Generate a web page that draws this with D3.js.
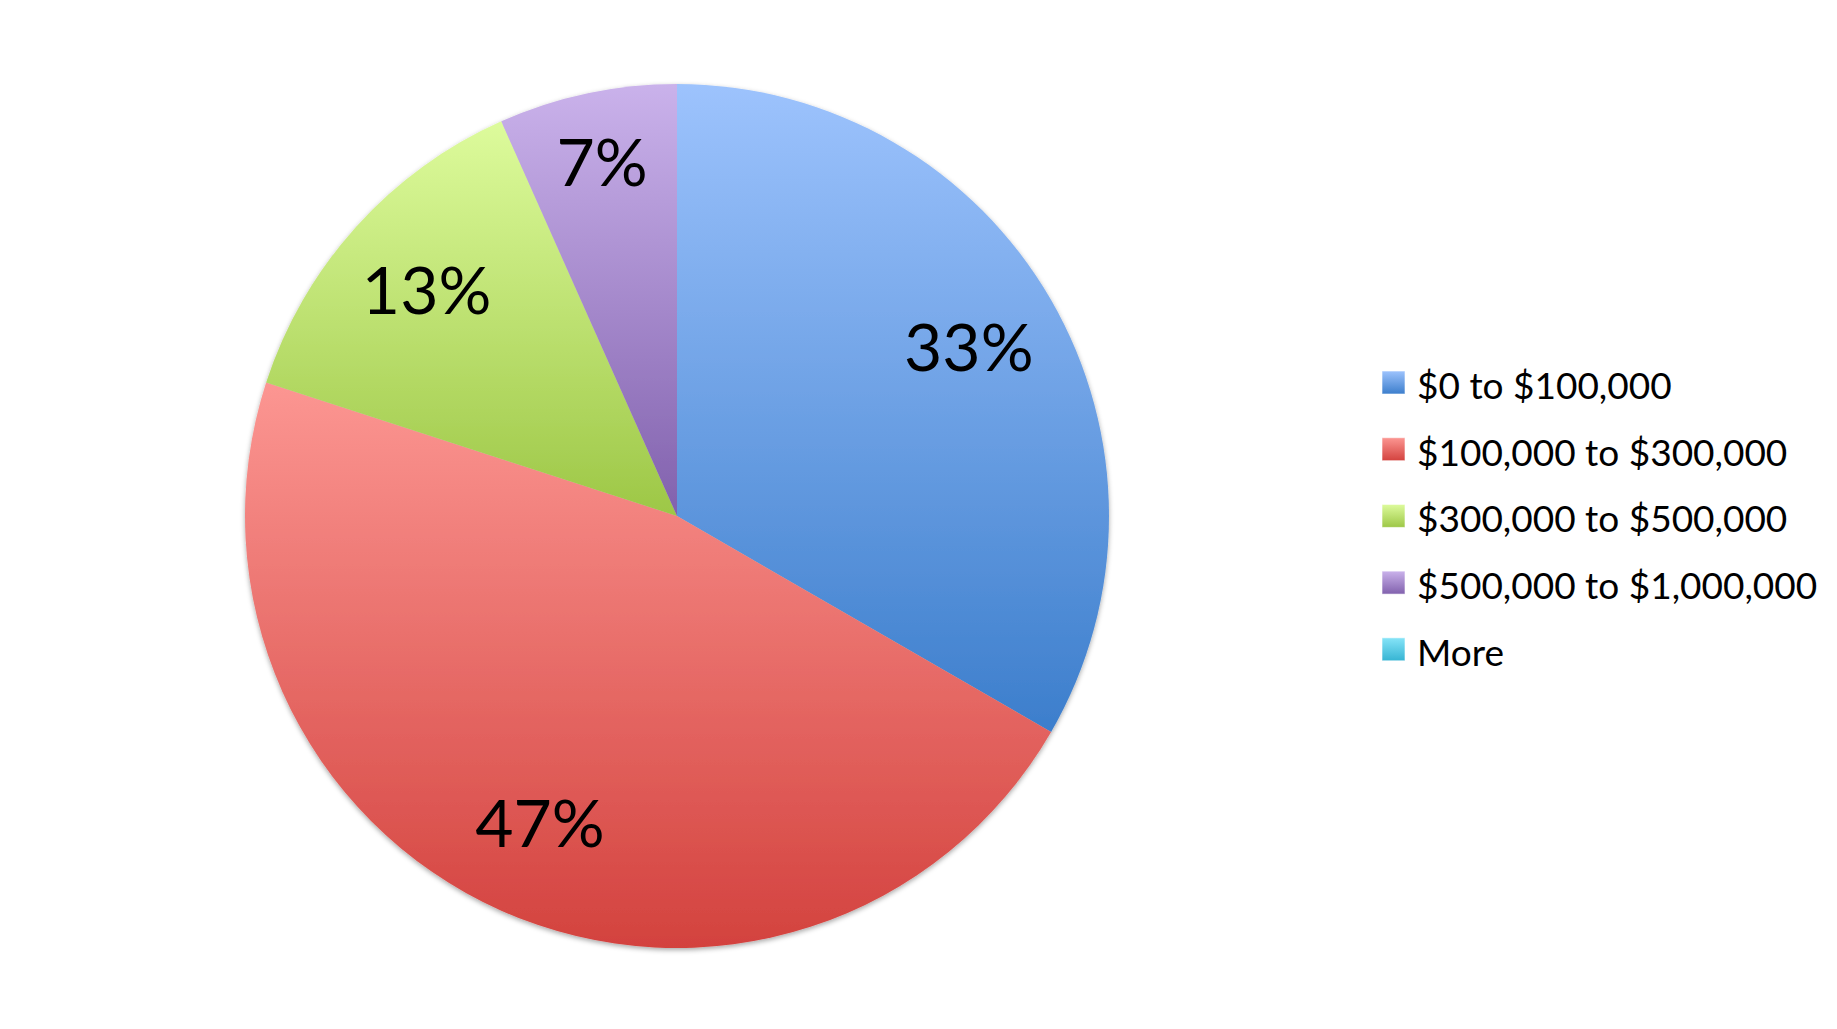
<!DOCTYPE html>
<html>
<head>
<meta charset="utf-8">
<script src="https://cdn.jsdelivr.net/npm/d3@7"></script>
<style>
  body { margin: 0; background: #fff; }
  svg { display: block; }
  text { font-family: Lato, "Open Sans", sans-serif; fill: #000; }
</style>
</head>
<body>
<svg id="chart" width="1837" height="1029"></svg>
<script>
// data (counts of homes per price band)
const categories = ["$0 to $100,000", "$100,000 to $300,000", "$300,000 to $500,000", "$500,000 to $1,000,000", "More"];
const counts = [5, 7, 2, 1, 0];

// gradient colours, top -> bottom of each slice
const topColors = ["#9dc3fd", "#fc9692", "#ddfb9c", "#cab2eb", "#86e4f8"];
const bottomColors = ["#3c7ecc", "#d3423e", "#9dc746", "#8161ad", "#36b4d3"];

let width = 1837;
let height = 1029;
let cx = 677, cy = 516, radius = 432;

const svg = d3.select("#chart");
const defs = svg.append("defs");

// one vertical gradient per category
categories.forEach((c, i) => {
    let g = defs.append("linearGradient")
        .attr("id", "grad" + i)
        .attr("x1", 0).attr("y1", 0)
        .attr("x2", 0).attr("y2", 1);
    g.append("stop").attr("offset", "0%").attr("stop-color", topColors[i]);
    g.append("stop").attr("offset", "100%").attr("stop-color", bottomColors[i]);
});

let shadow = defs.append("filter")
    .attr("id", "shadow")
    .attr("x", "-10%").attr("y", "-10%")
    .attr("width", "120%").attr("height", "120%");
shadow.append("feDropShadow")
    .attr("dx", 0).attr("dy", 2)
    .attr("stdDeviation", 2.5)
    .attr("flood-color", "#000")
    .attr("flood-opacity", 0.35);

const total = d3.sum(counts);
const pct = d3.format(".0%");

const pie = d3.pie().sort(null).value(d => d.value);
const arcs = pie(categories.map((c, i) => ({ name: c, value: counts[i], idx: i })));

const arc = d3.arc().innerRadius(0).outerRadius(radius);

// small slices push their label further out, like excel's best fit
function labelPos(d) {
    let share = d.value / total;
    let r = share < 0.1 ? radius * 0.835 : radius * 0.78;
    return d3.arc().innerRadius(r).outerRadius(r).centroid(d);
}

const g = svg.append("g").attr("transform", "translate(" + cx + "," + cy + ")");

g.append("g")
    .attr("filter", "url(#shadow)")
    .selectAll("path")
    .data(arcs.filter(d => d.value > 0))
    .join("path")
    .attr("d", arc)
    .attr("fill", d => "url(#grad" + d.data.idx + ")");

g.selectAll(".pct")
    .data(arcs.filter(d => d.value > 0))
    .join("text")
    .attr("class", "pct")
    .attr("transform", d => "translate(" + labelPos(d) + ")")
    .attr("text-anchor", "middle")
    .attr("dy", "0.35em")
    .style("font-size", "66px")
    .text(d => pct(d.value / total));

// legend
let legX = 1382, legY = 371, rowH = 66.7, box = 23;
const legend = svg.append("g").attr("class", "legend");
const rows = legend.selectAll("g")
    .data(categories)
    .join("g")
    .attr("transform", (d, i) => "translate(" + legX + "," + (legY + i * rowH) + ")");

rows.append("rect")
    .attr("width", box).attr("height", box)
    .attr("fill", (d, i) => "url(#grad" + i + ")")
    .attr("stroke", "#fff")
    .attr("stroke-opacity", 0.6)
    .attr("stroke-width", 1);

rows.append("text")
    .attr("x", 35)
    .attr("y", box / 2 + 3)
    .attr("dy", "0.36em")
    .style("font-size", "37px")
    .text(d => d);
</script>
</body>
</html>
